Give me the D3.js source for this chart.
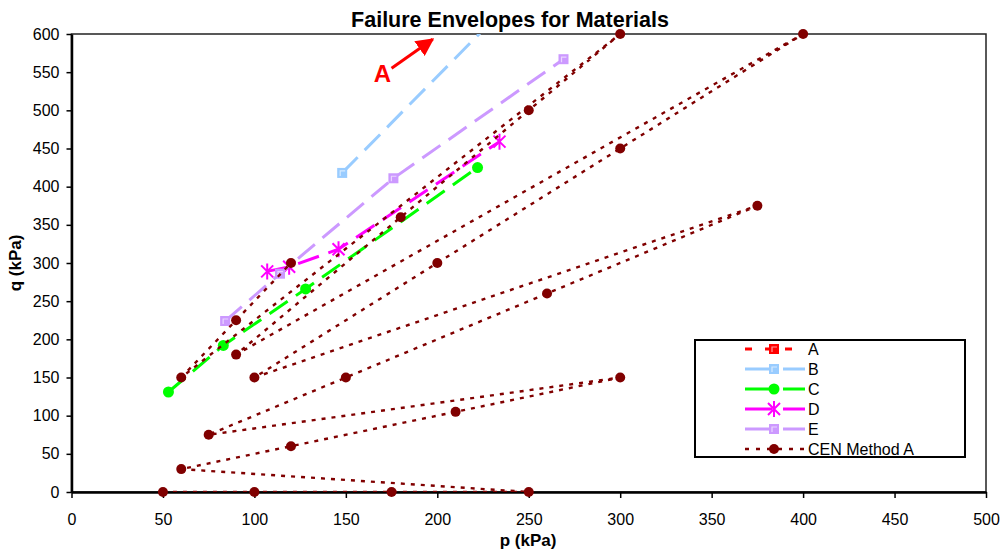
<!DOCTYPE html>
<html>
<head>
<meta charset="utf-8">
<script src="https://cdn.jsdelivr.net/npm/d3@7"></script>
<style>
  body { margin: 0; background: #fff; }
  text { font-family: Arial, "Liberation Sans", sans-serif; }
</style>
</head>
<body>
<svg id="chart" width="1002" height="550"></svg>
<script>
// series A sits above the plotted range (the arrow points to it), only its legend shows
const aP = [], aQ = [];
const bP = [148, 264], bQ = [418, 700];
const cP = [53, 83, 128, 222], cQ = [131, 192, 266, 425];
const dP = [107, 119, 146, 234], dQ = [289, 295, 318, 459];
const eP = [84, 114, 176, 269], eQ = [224, 286, 411, 567];
const cenP = [50, 100, 175, 250, 60, 120, 210, 300, 75, 150, 260, 375, 100, 200, 300, 400, 90, 180, 250, 300, 60, 90, 120];
const cenQ = [0, 0, 0, 0, 30, 60, 105, 150, 75, 150, 260, 375, 150, 300, 450, 600, 180, 360, 500, 600, 150, 225, 300];
const xTicks = [0, 50, 100, 150, 200, 250, 300, 350, 400, 450, 500];
const yTicks = [0, 50, 100, 150, 200, 250, 300, 350, 400, 450, 500, 550, 600];
const names = ["A", "B", "C", "D", "E", "CEN Method A"];

const zip = (p, q) => p.map((v, i) => ({ p: v, q: q[i] }));

const series = [
  { name: names[0], data: zip(aP, aQ), color: "#FF0000", dash: "7,10", width: 3, marker: "square" },
  { name: names[1], data: zip(bP, bQ), color: "#99CCFF", dash: "22,10", width: 3, marker: "square" },
  { name: names[2], data: zip(cP, cQ), color: "#00FF00", dash: "22,10", width: 3, marker: "circle" },
  { name: names[3], data: zip(dP, dQ), color: "#FF00FF", dash: "22,10", width: 3, marker: "star" },
  { name: names[4], data: zip(eP, eQ), color: "#CC99FF", dash: "22,10", width: 3, marker: "square" },
  { name: names[5], data: zip(cenP, cenQ), color: "#800000", dash: "4,6", width: 2.4, marker: "dot" },
];

const svg = d3.select("#chart");
const x = d3.scaleLinear().domain([0, 500]).range([71.5, 986]);
const y = d3.scaleLinear().domain([0, 600]).range([492, 34]);

svg.append("defs").append("clipPath").attr("id", "plotclip")
  .append("rect")
  .attr("x", x(0)).attr("y", y(600))
  .attr("width", x(500) - x(0)).attr("height", y(0) - y(600));

// plot frame
svg.append("rect")
  .attr("x", x(0)).attr("y", y(600))
  .attr("width", x(500) - x(0)).attr("height", y(0) - y(600))
  .attr("fill", "none").attr("stroke", "#222").attr("stroke-width", 1.5);

// axes
const gx = svg.append("g").attr("transform", `translate(0,${y(0)})`)
  .call(d3.axisBottom(x).tickValues(xTicks).tickSize(6).tickPadding(16).tickSizeOuter(0));
const gy = svg.append("g").attr("transform", `translate(${x(0)},0)`)
  .call(d3.axisLeft(y).tickValues(yTicks).tickSize(5).tickPadding(7).tickSizeOuter(0));
[gx, gy].forEach((g) => {
  g.select(".domain").attr("stroke", "#000").attr("stroke-width", 2.5);
  g.selectAll(".tick line").attr("stroke", "#000").attr("stroke-width", 1.5);
  g.selectAll(".tick text").attr("fill", "#000").style("font-size", "16px");
});

// markers
function drawMarker(g, s, cx, cy) {
  if (s.marker === "square") {
    g.append("rect").attr("x", cx - 5).attr("y", cy - 5).attr("width", 10).attr("height", 10)
      .attr("fill", s.color);
    g.append("path").attr("d", `M${cx - 2},${cy + 3}V${cy - 2}H${cx + 3}`)
      .attr("fill", "none").attr("stroke", "#fff").attr("stroke-opacity", 0.6).attr("stroke-width", 1.2);
  } else if (s.marker === "circle") {
    g.append("circle").attr("cx", cx).attr("cy", cy).attr("r", 5.5).attr("fill", s.color);
  } else if (s.marker === "star") {
    g.append("path")
      .attr("d", `M${cx - 6},${cy - 6}L${cx + 6},${cy + 6}M${cx - 6},${cy + 6}L${cx + 6},${cy - 6}M${cx},${cy - 8}V${cy + 8}`)
      .attr("stroke", s.color).attr("stroke-width", 2).attr("fill", "none");
  } else {
    g.append("circle").attr("cx", cx).attr("cy", cy).attr("r", 5).attr("fill", s.color);
  }
}

const line = d3.line().x((d) => x(d.p)).y((d) => y(d.q));

series.forEach((s) => {
  const g = svg.append("g");
  g.append("path")
    .datum(s.data)
    .attr("clip-path", "url(#plotclip)")
    .attr("d", line)
    .attr("fill", "none")
    .attr("stroke", s.color)
    .attr("stroke-width", s.width)
    .attr("stroke-dasharray", s.dash);
  s.data.filter((d) => d.q <= 600 && d.p <= 500).forEach((d) => drawMarker(g, s, x(d.p), y(d.q)));
});

// title and axis titles
svg.append("text").attr("x", 510).attr("y", 27).attr("text-anchor", "middle")
  .style("font-size", "21.5px").style("font-weight", "bold").text("Failure Envelopes for Materials");
svg.append("text").attr("x", 528).attr("y", 546).attr("text-anchor", "middle")
  .style("font-size", "17px").style("font-weight", "bold").text("p (kPa)");
svg.append("text").attr("transform", `translate(21,${y(300)}) rotate(-90)`).attr("text-anchor", "middle")
  .style("font-size", "17px").style("font-weight", "bold").text("q (kPa)");

// annotation for series A
svg.append("defs").append("marker").attr("id", "arrowhead")
  .attr("viewBox", "0 0 10 10").attr("refX", 9).attr("refY", 5)
  .attr("markerWidth", 6).attr("markerHeight", 6).attr("markerUnits", "strokeWidth")
  .attr("orient", "auto")
  .append("path").attr("d", "M0,0L10,5L0,10z").attr("fill", "#FF0000");
svg.append("line")
  .attr("x1", x(175)).attr("y1", y(555)).attr("x2", x(197.5)).attr("y2", y(593))
  .attr("stroke", "#FF0000").attr("stroke-width", 3).attr("marker-end", "url(#arrowhead)");
svg.append("text").attr("x", x(170)).attr("y", y(537)).attr("text-anchor", "middle")
  .attr("fill", "#FF0000").style("font-size", "24px").style("font-weight", "bold").text("A");

// legend
const lg = svg.append("g").attr("transform", "translate(695,340)");
lg.append("rect").attr("width", 270).attr("height", 117)
  .attr("fill", "#fff").attr("stroke", "#000").attr("stroke-width", 2);
series.forEach((s, i) => {
  const ry = 9 + i * 20;
  const row = lg.append("g");
  row.append("line").attr("x1", 50).attr("x2", 110).attr("y1", ry).attr("y2", ry)
    .attr("stroke", s.color).attr("stroke-width", s.width)
    .attr("stroke-dasharray", s.name === "CEN Method A" ? "4,7" : (s.name === "A" ? "7,13" : "27,11"));
  drawMarker(row, s, 79, ry);
  row.append("text").attr("x", 113).attr("y", ry + 6)
    .style("font-size", "16px").text(s.name);
});
</script>
</body>
</html>
